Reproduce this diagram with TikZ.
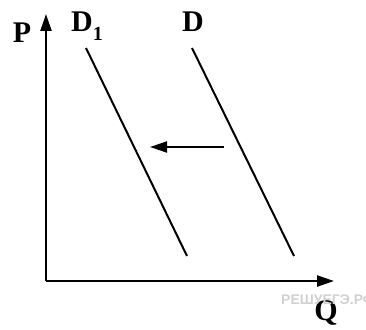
\documentclass[tikz,border=0pt]{standalone}
\usepackage{fontspec}
\setmainfont{Liberation Serif}
\newfontfamily\markfont{Liberation Sans}
\usetikzlibrary{arrows.meta}
\begin{document}
\begin{tikzpicture}[
  x=1pt, y=-1pt,
  axis/.style={draw, line width=2.4pt, -{Triangle[length=17pt,width=11pt]}},
  curve/.style={draw, line width=2pt},
  moveleft/.style={draw, line width=2pt, -{Triangle[length=17pt,width=11pt]}},
  lbl/.style={font=\fontsize{30}{34}\selectfont\bfseries, inner sep=0pt},
]
\useasboundingbox (0,0) rectangle (366,329);

% ---------------- axes ----------------
\coordinate (o)    at ( 46,281);
\coordinate (ptop) at ( 46, 14);
\coordinate (qend) at (334,281);
\draw[axis] (o) -- (ptop);
\draw[axis] (o) -- (qend);
\node[lbl, anchor=base] (p) at (22,42) {P};
\node[lbl, anchor=base] (q) at (326,320) {Q};

% ---------------- the two demand curves ----------------
\coordinate (d1top) at ( 86, 48);
\coordinate (d1bot) at (187,256);
\coordinate (dtop)  at (192, 48);
\coordinate (dbot)  at (294,256);
\draw[curve] (d1top) -- (d1bot);
\draw[curve] (dtop)  -- (dbot);
\node[lbl, anchor=base west] (d1lbl) at (71,32)
  {D\raisebox{-9pt}{\fontsize{20}{22}\selectfont 1}};
\node[lbl, anchor=base] (dlbl) at (193,31) {D};

% shift to the left
\coordinate (from) at (224,147);
\coordinate (to)   at (150,147);
\draw[moveleft] (from) -- (to);

% site mark
\node[font=\markfont\fontsize{14}{16}\selectfont\bfseries, text=black!18,
  anchor=base west, inner sep=0pt] (mark) at (281,304) {РЕШУЕГЭ.РФ};
\end{tikzpicture}
\end{document}
